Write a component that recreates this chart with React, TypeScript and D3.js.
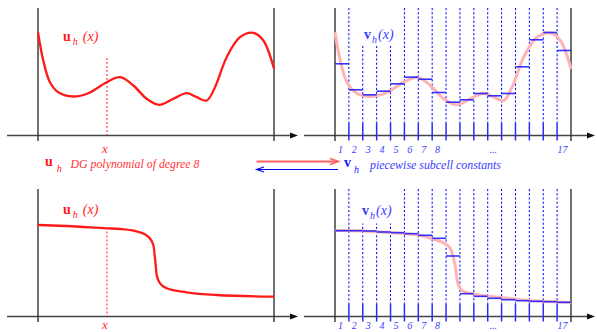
import React from 'react';
import * as d3 from 'd3';

// subcell count and labels under the subcell panels
const CELLS = 17;
const cellLabels = ['1', '2', '3', '4', '5', '6', '7', '8', '', '', '', '...', '', '', '', '', '17'];

// smooth case: DG polynomial (x in cell units 0..17)
const smoothX = [0, 0.38, 0.86, 1.46, 2.54, 3.62, 4.95, 5.91, 6.87, 7.83, 8.74, 9.75, 10.71, 11.43, 12.15, 12.75, 13.59, 14.55, 15.51, 16.23, 17];
const smoothU = [1.033, 0.75, 0.533, 0.433, 0.39, 0.423, 0.533, 0.583, 0.5, 0.367, 0.307, 0.367, 0.423, 0.383, 0.35, 0.483, 0.783, 0.983, 1.027, 0.95, 0.667];
const smoothMeans = [0.717, 0.457, 0.407, 0.443, 0.517, 0.583, 0.563, 0.43, 0.333, 0.357, 0.42, 0.397, 0.42, 0.687, 0.957, 1.03, 0.85];

// shock case
const shockX = [0, 2.07, 4.95, 5.91, 7.35, 7.95, 8.31, 8.43, 8.55, 8.79, 9.27, 10.71, 12.87, 17];
const shockU = [0.915, 0.905, 0.882, 0.875, 0.842, 0.798, 0.715, 0.582, 0.415, 0.332, 0.282, 0.242, 0.215, 0.198];
const shockRightX = [0, 2, 4, 6, 7.06, 8.0, 8.29, 8.65, 8.88, 9.22, 10, 12, 14, 17];
const shockRightU = [0.86, 0.855, 0.84, 0.815, 0.775, 0.72, 0.685, 0.515, 0.315, 0.255, 0.225, 0.19, 0.16, 0.14];
const shockMeans = [0.858, 0.858, 0.855, 0.845, 0.838, 0.828, 0.812, 0.782, 0.605, 0.228, 0.202, 0.182, 0.168, 0.158, 0.152, 0.148, 0.142];

const RED = '#ff1a1a';
const RED_TXT = '#ff3333';
const BLUE = '#0000ff';
const BLUE_TXT = '#3b3bff';
const SERIF = '"Liberation Serif", "DejaVu Serif", serif';
const W = 236;

type PanelProps = {
  x0: number;
  axisY: number;
  xs: number[];
  us: number[];
  curve: d3.CurveFactory;
  labelDy: number;
  labelX: number;
  bottomDy: number;
};

function Axes({ x0, axisY }: { x0: number; axisY: number }) {
  return (
    <g>
      <line x1={x0 - 31} x2={x0 + 254} y1={axisY} y2={axisY} stroke="#444" strokeWidth={1.6} />
      <path d={`M${x0 + 252},${axisY - 3}L${x0 + 260},${axisY}L${x0 + 252},${axisY + 3}Z`} fill="#111" />
      <line x1={x0} x2={x0} y1={axisY - 127.5} y2={axisY + 5.5} stroke="#333" strokeWidth={1.4} />
      <line x1={x0 + W} x2={x0 + W} y1={axisY - 127.5} y2={axisY + 5.5} stroke="#333" strokeWidth={1.4} />
    </g>
  );
}

function DGPanel({ x0, axisY, xs, us, curve, labelDy, labelX, bottomDy, dotTop }: PanelProps & { dotTop: number }) {
  const x = d3.scaleLinear().domain([0, CELLS]).range([x0, x0 + W]);
  const y = d3.scaleLinear().domain([0, 1]).range([axisY, axisY - 100]);
  const line = d3.line<number>().x((_, i) => x(xs[i])).y((d) => y(d)).curve(curve);
  const xm = x(4.97);
  return (
    <g>
      <Axes x0={x0} axisY={axisY} />
      <line x1={xm} x2={xm} y1={axisY - dotTop} y2={axisY} stroke={RED} strokeWidth={1} strokeDasharray="2,2" />
      <path d={line(us) || ''} fill="none" stroke={RED} strokeWidth={2.3} />
      <text x={xm - 2} y={axisY + bottomDy} fill={RED_TXT} fontFamily={SERIF} fontStyle="italic" fontSize={13} textAnchor="middle">x</text>
      <text x={labelX} y={axisY - labelDy} fill={RED} fontFamily={SERIF} fontSize={14}>
        <tspan fontWeight="bold">u</tspan>
        <tspan fontStyle="italic" fontSize={10} dx={2} dy={4}>h</tspan>
        <tspan fontStyle="italic" dx={5} dy={-4}>(x)</tspan>
      </text>
    </g>
  );
}

function SubcellPanel({ x0, axisY, xs, us, curve, labelDy, labelX, bottomDy, means, gapTo }: PanelProps & { means: number[]; gapTo: number }) {
  const x = d3.scaleLinear().domain([0, CELLS]).range([x0, x0 + W]);
  const y = d3.scaleLinear().domain([0, 1]).range([axisY, axisY - 100]);
  const line = d3.line<number>().x((_, i) => x(xs[i])).y((d) => y(d)).curve(curve);
  const bounds = d3.range(1, CELLS);
  return (
    <g>
      <Axes x0={x0} axisY={axisY} />
      {bounds.map((b) => (
        <g key={b}>
          <line x1={x(b)} x2={x(b)} y1={axisY - 127.5} y2={axisY - 13} stroke={BLUE} strokeWidth={1} strokeDasharray="2.2,2" />
          <line x1={x(b)} x2={x(b)} y1={axisY - 13} y2={axisY + 5} stroke="#2a2aff" strokeWidth={1.5} />
        </g>
      ))}
      <rect x={labelX - 4} y={axisY - 128} width={34} height={128 - gapTo} fill="#fff" />
      <path d={line(us) || ''} fill="none" stroke="#ffb4b4" strokeWidth={3} />
      {means.map((m, i) => (
        <line key={i} x1={x(i)} x2={x(i + 1)} y1={y(m)} y2={y(m)} stroke="#1f1fff" strokeOpacity={0.9} strokeWidth={1.6} />
      ))}
      {cellLabels.map((t, i) => (
        <text key={i} x={x(i + 0.5) - 1.5} y={axisY + bottomDy} fill={BLUE_TXT} fontFamily={SERIF} fontStyle="italic" fontSize={10} textAnchor="middle">{t}</text>
      ))}
      <text x={labelX} y={axisY - labelDy} fill={BLUE_TXT} fontFamily={SERIF} fontSize={14}>
        <tspan fontWeight="bold">v</tspan>
        <tspan fontStyle="italic" fontSize={10} dx={1} dy={3.5}>h</tspan>
        <tspan fontStyle="italic" dx={1} dy={-3.5}>(x)</tspan>
      </text>
    </g>
  );
}

export default function App() {
  const topY = 135.5;
  const botY = 316.5;
  return (
    <svg width={597} height={332} style={{ position: 'absolute', left: 0, top: 0, background: '#fff' }}>
      <DGPanel x0={38} axisY={topY} xs={smoothX} us={smoothU} curve={d3.curveCatmullRom.alpha(0.5)}
        labelDy={95} labelX={63} bottomDy={17.5} dotTop={77.5} />
      <SubcellPanel x0={335} axisY={topY} xs={smoothX} us={smoothU} curve={d3.curveCatmullRom.alpha(0.5)}
        labelDy={96.5} labelX={364} bottomDy={17} means={smoothMeans} gapTo={90} />
      <DGPanel x0={38} axisY={botY} xs={shockX} us={shockU} curve={d3.curveMonotoneX}
        labelDy={103} labelX={63} bottomDy={12.5} dotTop={85} />
      <SubcellPanel x0={335} axisY={botY} xs={shockRightX} us={shockRightU} curve={d3.curveMonotoneX}
        labelDy={101.5} labelX={362} bottomDy={12.5} means={shockMeans} gapTo={93} />

      {/* middle legend + arrows */}
      <text x={45} y={166} fill={RED} fontFamily={SERIF} fontSize={14}>
        <tspan fontWeight="bold">u</tspan>
        <tspan fontStyle="italic" fontSize={10} dx={4} dy={5.5}>h</tspan>
      </text>
      <text x={70.5} y={167.5} fill={RED_TXT} fontFamily={SERIF} fontStyle="italic" fontSize={11.5}
        textLength={129} lengthAdjust="spacingAndGlyphs">DG polynomial of degree 8</text>
      <line x1={256.5} x2={338} y1={161.5} y2={161.5} stroke="#ff6060" strokeWidth={2} />
      <path d="M330,158.5L338.5,161.5L330,164.5" fill="none" stroke="#ff6060" strokeWidth={1.5} />
      <line x1={256.5} x2={338} y1={169.5} y2={169.5} stroke="#0000ee" strokeWidth={1.2} />
      <path d="M264,167L256.5,169.5L264,172" fill="none" stroke="#0000ee" strokeWidth={1.1} />
      <text x={344} y={167} fill="#2020ff" fontFamily={SERIF} fontSize={14}>
        <tspan fontWeight="bold">v</tspan>
        <tspan fontStyle="italic" fontSize={10} dx={3} dy={6}>h</tspan>
      </text>
      <text x={370} y={168.5} fill={BLUE_TXT} fontFamily={SERIF} fontStyle="italic" fontSize={11.5}
        textLength={131} lengthAdjust="spacingAndGlyphs">piecewise subcell constants</text>
    </svg>
  );
}
